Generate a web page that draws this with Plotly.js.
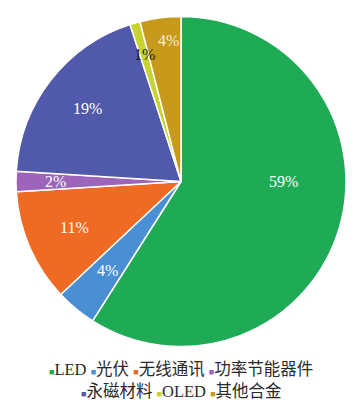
<!DOCTYPE html>
<html><head><meta charset="utf-8">
<script src="https://cdn.plot.ly/plotly-3.0.1.min.js"></script>
<style>html,body{margin:0;padding:0;background:#fff;}#chart{width:358px;height:405px;}</style>
</head><body><div id="chart"></div>
<script>
const categories = ["LED", "光伏", "无线通讯", "功率节能器件", "永磁材料", "OLED", "其他合金"];
const shares = [59, 4, 11, 2, 19, 1, 4];
const colors = ["#1fab55", "#4a8fd4", "#ef6a22", "#9d64b9", "#5159ab", "#c8d230", "#c89a1c"];
const labelColors = ["#ffffff", "#ffffff", "#ffffff", "#ffffff", "#ffffff", "#1a1a1a", "#f6eed6"];
// label placement style: fraction of radius and angular shift (deg) from slice middle
const labelRadius = [0.62, 0.70, 0.70, 0.76, 0.72, 0.80, 0.86];
const labelShift = [-16, 0, 0, 0, 0, 0, 2];

const serif = "Liberation Serif, DejaVu Serif, serif";
const cjk = "Liberation Serif, Noto Sans CJK SC, serif";

const W = 358, H = 405;
const margin = {l: 16, r: 12, t: 16, b: 58};
const pw = W - margin.l - margin.r, ph = H - margin.t - margin.b;
const R = Math.min(pw, ph) / 2;

const trace = {
  type: "pie",
  labels: categories,
  values: shares,
  sort: false,
  direction: "clockwise",
  rotation: 0,
  marker: {colors: colors, line: {color: "#ffffff", width: 1.5}},
  textinfo: "none",
  hoverinfo: "none",
  showlegend: false,
  domain: {x: [0, 1], y: [0, 1]}
};

// data labels at each slice's angle
const total = shares.reduce((a, b) => a + b, 0);
let cum = 0;
const labelAnns = shares.map((v, i) => {
  const mid = (cum + v / 2) / total * 360 + labelShift[i];
  cum += v;
  const a = mid * Math.PI / 180;
  const r = R * labelRadius[i];
  return {
    xref: "paper", yref: "paper",
    x: 0.5 + r * Math.sin(a) / pw,
    y: 0.5 + r * Math.cos(a) / ph,
    xanchor: "center", yanchor: "middle", showarrow: false,
    text: v + "%",
    font: {family: serif, size: 16, color: labelColors[i]}
  };
});

// legend built from categories & colors, two rows
const rows = [[0, 1, 2, 3], [4, 5, 6]];
const legendAnns = rows.map((row, r) => ({
  xref: "paper", yref: "paper", x: 0.5, y: r === 0 ? -0.068 : -0.133,
  xanchor: "center", yanchor: "middle", showarrow: false,
  font: {family: cjk, size: 16.5, color: "#2a2a2a"},
  text: row.map(i => `<span style="color:${colors[i]};font-size:9px">■</span>${categories[i]}`).join(" ")
}));

const layout = {
  width: W, height: H,
  margin: margin,
  paper_bgcolor: "#ffffff",
  showlegend: false,
  annotations: labelAnns.concat(legendAnns)
};
Plotly.newPlot("chart", [trace], layout, {displayModeBar: false, staticPlot: true});
</script></body></html>
